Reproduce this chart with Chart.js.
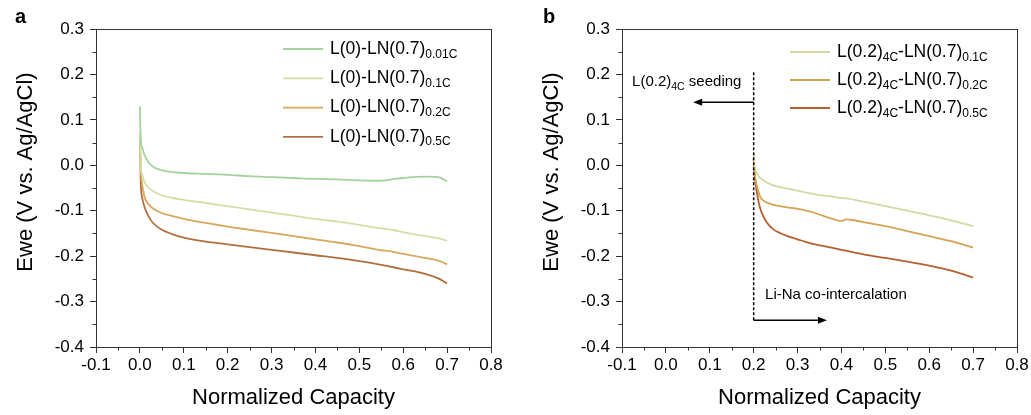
<!DOCTYPE html>
<html>
<head>
<meta charset="utf-8">
<script src="https://cdn.jsdelivr.net/npm/chart.js@4/dist/chart.umd.min.js"></script>
<style>
  body { margin: 0; background: #fff; }
  #wrap { position: relative; width: 1031px; height: 415px; }
  #chart-a { position: absolute; left: 0; top: 0; }
  #chart-b { position: absolute; left: 515px; top: 0; }
</style>
</head>
<body>
<div id="wrap">
  <canvas id="chart-a" width="515" height="415"></canvas>
  <canvas id="chart-b" width="516" height="415"></canvas>
</div>
<script>
// panel a: L(0)-LN(0.7) at different rates
const capA = [0, 0.002, 0.005, 0.01, 0.02, 0.03, 0.05, 0.075, 0.1, 0.15, 0.2, 0.25, 0.3, 0.35, 0.4, 0.45, 0.5, 0.55, 0.56, 0.58, 0.6, 0.65, 0.68, 0.7];
const eweA001 = [0.13, 0.056, 0.04, 0.024, 0.006, -0.003, -0.011, -0.015, -0.017, -0.019, -0.021, -0.024, -0.026, -0.028, -0.03, -0.031, -0.033, -0.034, -0.033, -0.03, -0.028, -0.025, -0.026, -0.036];
const eweA01 = [0.07, -0.003, -0.02, -0.036, -0.05, -0.057, -0.066, -0.072, -0.076, -0.083, -0.09, -0.097, -0.104, -0.111, -0.118, -0.124, -0.131, -0.139, -0.14, -0.143, -0.147, -0.156, -0.161, -0.166];
const eweA02 = [0.07, -0.01, -0.04, -0.068, -0.086, -0.095, -0.105, -0.112, -0.118, -0.127, -0.135, -0.142, -0.149, -0.156, -0.163, -0.17, -0.178, -0.187, -0.188, -0.191, -0.195, -0.204, -0.21, -0.218];
const eweA05 = [0.07, -0.04, -0.07, -0.09, -0.113, -0.127, -0.142, -0.152, -0.159, -0.168, -0.174, -0.18, -0.186, -0.192, -0.198, -0.204, -0.211, -0.219, -0.221, -0.225, -0.229, -0.239, -0.249, -0.26];
const ratesA = ["0.01C", "0.1C", "0.2C", "0.5C"];

// panel b: L(0.2)4C seeded, then LN(0.7)
const capB = [0.2, 0.202, 0.205, 0.21, 0.215, 0.22, 0.23, 0.245, 0.26, 0.28, 0.3, 0.32, 0.34, 0.36, 0.38, 0.4, 0.41, 0.43, 0.45, 0.5, 0.55, 0.6, 0.65, 0.7];
const eweB01 = [0.025, 0.0, -0.012, -0.022, -0.028, -0.032, -0.038, -0.044, -0.048, -0.052, -0.056, -0.06, -0.064, -0.067, -0.069, -0.072, -0.073, -0.076, -0.08, -0.09, -0.1, -0.11, -0.121, -0.134];
const eweB02 = [0.012, -0.015, -0.035, -0.055, -0.07, -0.076, -0.082, -0.087, -0.09, -0.093, -0.096, -0.1, -0.105, -0.112, -0.118, -0.123, -0.119, -0.121, -0.125, -0.134, -0.145, -0.156, -0.167, -0.181];
const eweB05 = [0.015, -0.02, -0.045, -0.075, -0.095, -0.108, -0.126, -0.141, -0.149, -0.157, -0.163, -0.169, -0.174, -0.178, -0.182, -0.186, -0.188, -0.192, -0.196, -0.204, -0.212, -0.221, -0.232, -0.247];
const ratesB = ["0.1C", "0.2C", "0.5C"];

const xTicks = [-0.1, 0.0, 0.1, 0.2, 0.3, 0.4, 0.5, 0.6, 0.7, 0.8];
const yTicks = [-0.4, -0.3, -0.2, -0.1, 0.0, 0.1, 0.2, 0.3];

const FONT = "'Liberation Sans', Arial, sans-serif";

function pts(xs, ys) {
  return xs.map((x, i) => ({ x: x, y: ys[i] }));
}
function fmt(v) {
  return Math.abs(v) < 1e-9 ? "0.0" : v.toFixed(1);
}

// draw text with subscripts: parts = [[text, isSub], ...]
function richText(ctx, parts, x, y, size, subSize) {
  ctx.textBaseline = "middle";
  ctx.textAlign = "left";
  parts.forEach(p => {
    ctx.font = (p[1] ? subSize : size) + "px " + FONT;
    ctx.fillText(p[0], x, p[1] ? y + size * 0.3 : y);
    x += ctx.measureText(p[0]).width;
  });
}

function arrow(ctx, x0, y, x1) {
  const dir = x1 > x0 ? 1 : -1;
  ctx.beginPath();
  ctx.moveTo(x0, y);
  ctx.lineTo(x1 - dir * 6, y);
  ctx.stroke();
  ctx.beginPath();
  ctx.moveTo(x1, y);
  ctx.lineTo(x1 - dir * 9, y - 3.5);
  ctx.lineTo(x1 - dir * 9, y + 3.5);
  ctx.closePath();
  ctx.fill();
}

function panelPlugin(opt) {
  return {
    id: "panel",
    afterDraw(chart) {
      const ctx = chart.ctx, a = chart.chartArea;
      const sx = chart.scales.x, sy = chart.scales.y;
      ctx.save();
      ctx.strokeStyle = "#333";
      ctx.fillStyle = "#000";
      ctx.lineWidth = 1;
      ctx.strokeRect(Math.round(a.left) + 0.5, Math.round(a.top) + 0.5, Math.round(a.right - a.left), Math.round(a.bottom - a.top));
      // minor ticks
      ctx.beginPath();
      for (let i = 0; i < xTicks.length - 1; i++) {
        const px = Math.round(sx.getPixelForValue(xTicks[i] + 0.05)) + 0.5;
        ctx.moveTo(px, a.bottom);
        ctx.lineTo(px, a.bottom + 3.5);
      }
      for (let i = 0; i < yTicks.length - 1; i++) {
        const py = Math.round(sy.getPixelForValue(yTicks[i] + 0.05)) + 0.5;
        ctx.moveTo(a.left, py);
        ctx.lineTo(a.left - 3.5, py);
      }
      ctx.stroke();
      // y title
      ctx.save();
      ctx.translate(opt.titleX, opt.titleY);
      ctx.rotate(-Math.PI / 2);
      ctx.font = "22px " + FONT;
      ctx.textAlign = "center";
      ctx.textBaseline = "middle";
      ctx.fillText("Ewe (V vs. Ag/AgCl)", 0, 0);
      ctx.restore();
      // panel letter
      ctx.font = "bold 20px " + FONT;
      ctx.textAlign = "left";
      ctx.textBaseline = "alphabetic";
      ctx.fillText(opt.letter, opt.letterX, 23);
      // legend
      chart.data.datasets.forEach((ds, i) => {
        const y = opt.legY + i * opt.legStep;
        ctx.strokeStyle = ds.borderColor;
        ctx.lineWidth = 1.8;
        ctx.beginPath();
        ctx.moveTo(opt.legX, y);
        ctx.lineTo(opt.legX + 40, y);
        ctx.stroke();
        ctx.fillStyle = "#000";
        richText(ctx, ds.parts, opt.legX + 47, y, 17.5, 12);
      });
      if (opt.notes) opt.notes(chart, ctx, sx, sy);
      ctx.restore();
    }
  };
}

function scales(yWidth) {
  return {
    x: {
      type: "linear", min: -0.1, max: 0.8,
      afterBuildTicks: s => { s.ticks = xTicks.map(v => ({ value: v })); },
      afterFit: s => { s.height = 68; },
      ticks: { callback: fmt, color: "#000", font: { family: FONT, size: 17 }, padding: 2, maxRotation: 0 },
      grid: { drawOnChartArea: false, tickLength: 6, color: "#333" },
      border: { color: "#333" },
      title: { display: true, text: "Normalized Capacity", color: "#000", font: { family: FONT, size: 22 }, padding: { top: 0, bottom: 4 } }
    },
    y: {
      type: "linear", min: -0.4, max: 0.3,
      afterBuildTicks: s => { s.ticks = yTicks.map(v => ({ value: v })); },
      afterFit: s => { s.width = yWidth; },
      ticks: { callback: fmt, color: "#000", font: { family: FONT, size: 17 }, padding: 6 },
      grid: { drawOnChartArea: false, tickLength: 6, color: "#333" },
      border: { color: "#333" }
    }
  };
}

function line(data, color, parts) {
  return {
    data: data, parts: parts, borderColor: color, borderWidth: 1.8,
    pointRadius: 0, fill: false, cubicInterpolationMode: "monotone"
  };
}

const common = {
  responsive: false, animation: false, devicePixelRatio: 1,
  plugins: { legend: { display: false }, tooltip: { enabled: false } }
};

const colA = ["#a5d39f", "#d3dfa5", "#d6a95e", "#b0703f"];
const seriesA = [eweA001, eweA01, eweA02, eweA05];
new Chart(document.getElementById("chart-a"), {
  type: "line",
  data: {
    datasets: seriesA.map((s, i) => line(pts(capA, s), colA[i], [["L(0)-LN(0.7)", false], [ratesA[i], true]]))
  },
  options: Object.assign({}, common, {
    layout: { padding: { left: 0, right: 24, top: 29, bottom: 0 } },
    scales: scales(96)
  }),
  plugins: [panelPlugin({ letter: "a", letterX: 15, titleX: 26, titleY: 172, legX: 283, legY: 49, legStep: 29.3 })]
});

const colB = ["#d0dca6", "#d5a352", "#b5612f"];
const seriesB = [eweB01, eweB02, eweB05];
new Chart(document.getElementById("chart-b"), {
  type: "line",
  data: {
    datasets: seriesB.map((s, i) => line(pts(capB, s), colB[i], [["L(0.2)", false], ["4C", true], ["-LN(0.7)", false], [ratesB[i], true]]))
  },
  options: Object.assign({}, common, {
    layout: { padding: { left: 0, right: 14, top: 29, bottom: 0 } },
    scales: scales(107)
  }),
  plugins: [panelPlugin({
    letter: "b", letterX: 28, titleX: 37, titleY: 172, legX: 275, legY: 52, legStep: 28,
    notes: (chart, ctx, sx, sy) => {
      const x0 = sx.getPixelForValue(0.2);
      ctx.strokeStyle = "#000";
      ctx.fillStyle = "#000";
      ctx.lineWidth = 1.5;
      ctx.setLineDash([3, 2]);
      ctx.beginPath();
      ctx.moveTo(x0, sy.getPixelForValue(0.205));
      ctx.lineTo(x0, sy.getPixelForValue(-0.345));
      ctx.stroke();
      ctx.setLineDash([]);
      arrow(ctx, x0, sy.getPixelForValue(0.139), sx.getPixelForValue(0.062));
      arrow(ctx, x0, sy.getPixelForValue(-0.341), sx.getPixelForValue(0.367));
      richText(ctx, [["L(0.2)", false], ["4C", true], [" seeding", false]], sx.getPixelForValue(-0.077), sy.getPixelForValue(0.183), 15, 10.5);
      richText(ctx, [["Li-Na co-intercalation", false]], sx.getPixelForValue(0.226), sy.getPixelForValue(-0.286), 15, 10.5);
    }
  })]
});
</script>
</body>
</html>
